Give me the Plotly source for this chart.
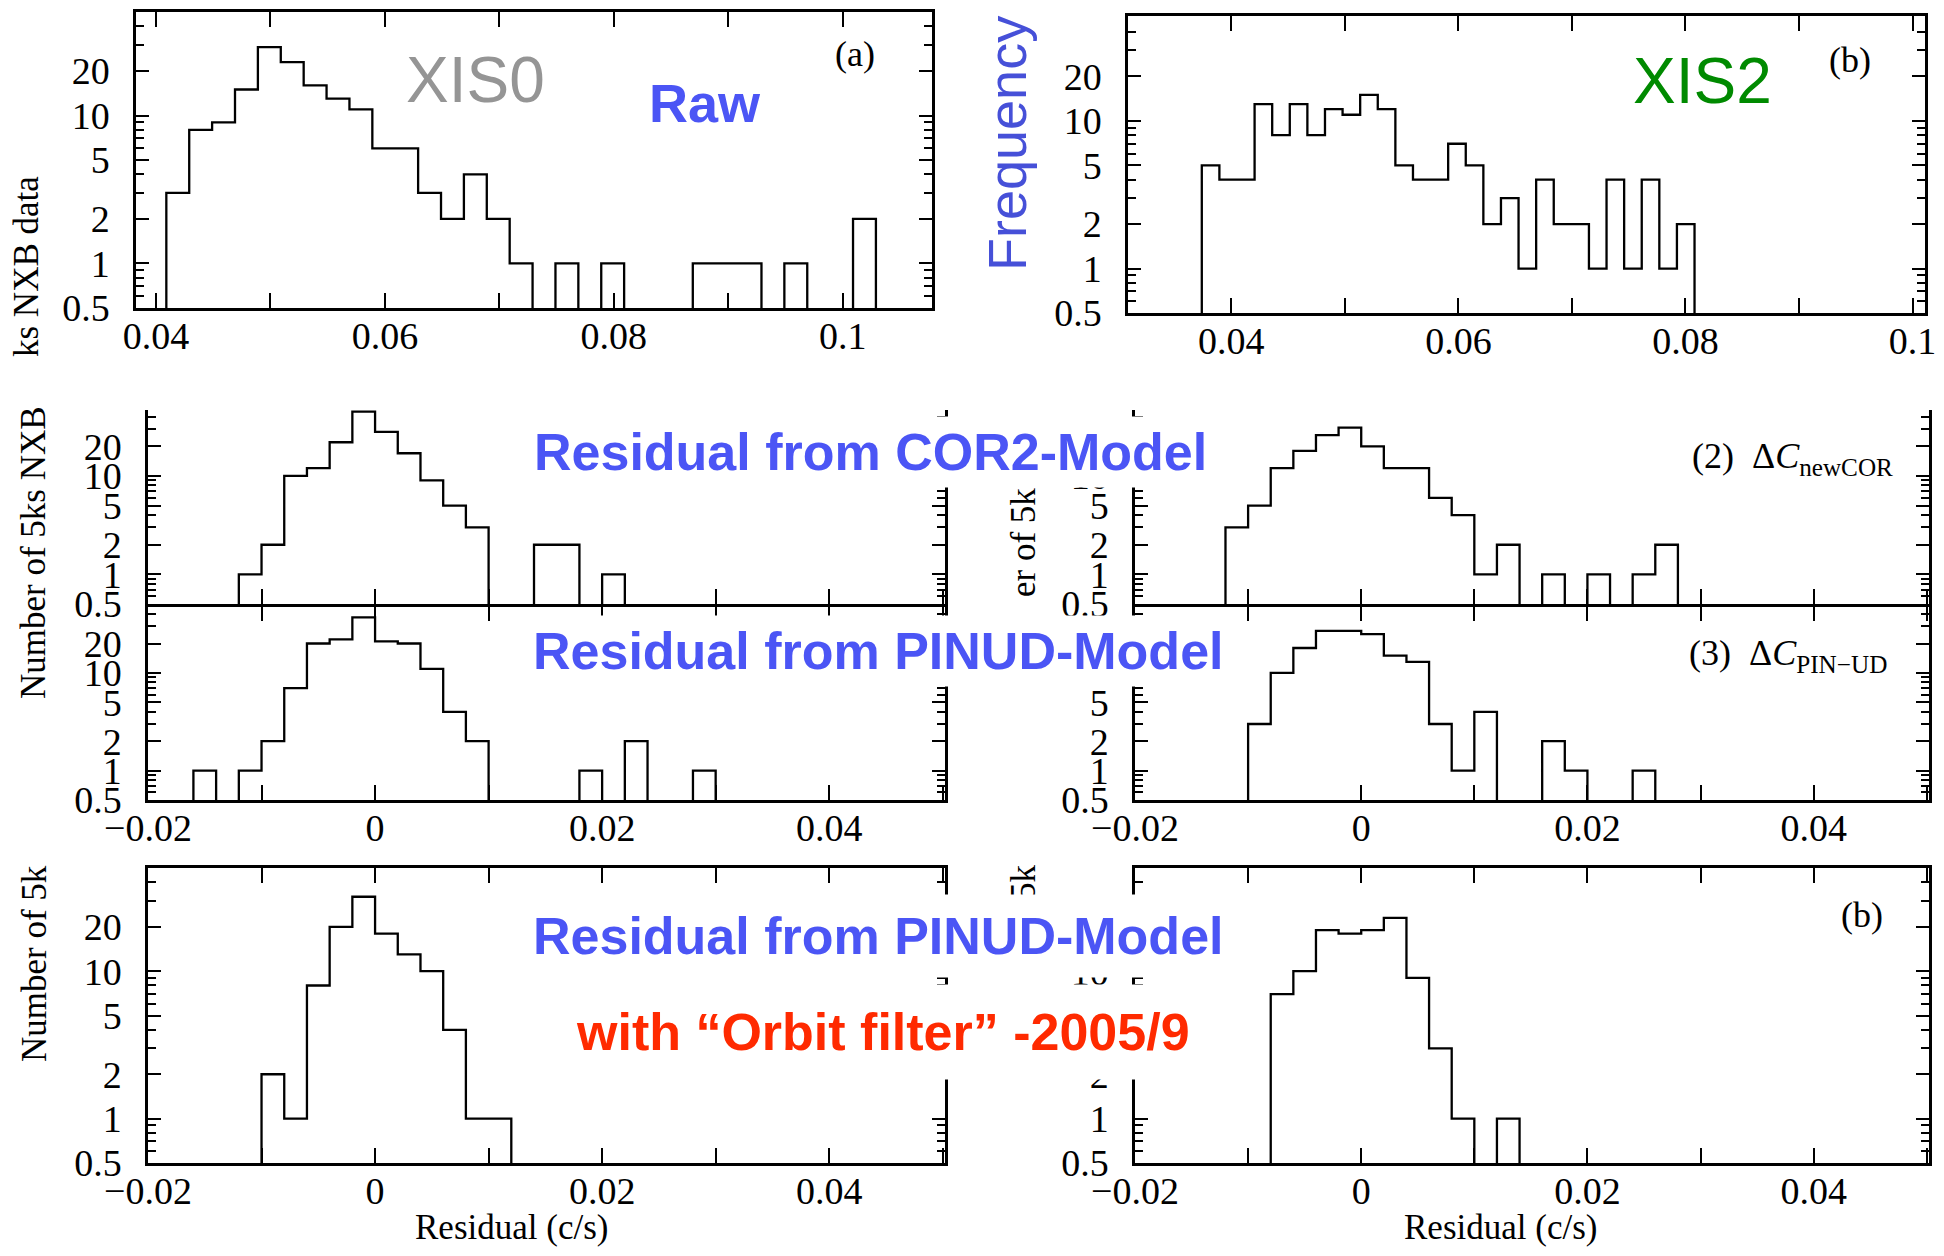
import numpy as np
import plotly.graph_objects as go

# ---- histogram data (bin start, bin width, counts per bin) ----
# (a) XIS0 raw rate
xis0_lo = 0.0409
xis0_w = 0.002
xis0_counts = [3, 8, 9, 15, 29, 23, 16, 13, 11, 6, 6, 3, 2, 4, 2, 1, 0, 1, 0, 1,
               0, 0, 0, 1, 1, 1, 0, 1, 0, 0, 2]

# (b) XIS2 raw rate
xis2_lo = 0.0374
xis2_w = 0.00155
xis2_counts = [5, 4, 4, 13, 8, 13, 8, 12, 11, 15, 12, 5, 4, 4, 7, 5, 2, 3, 1, 4,
               2, 2, 1, 4, 1, 4, 1, 2]

# residual from COR2 model
cor2_left_lo = -0.012
cor2_left_counts = [1, 2, 10, 12, 22, 45, 28, 17, 9, 5, 3, 0, 0, 2, 2, 0, 1]
cor2_right_lo = -0.012
cor2_right_counts = [3, 5, 12, 18, 26, 31, 20, 12, 12, 6, 4, 1, 2, 0, 1, 0, 1, 0, 1, 2]

# residual from PINUD model
pinud_left_lo = -0.016
pinud_left_counts = [1, 0, 1, 2, 7, 20, 22, 37, 21, 20, 11, 4, 2, 0, 0, 0, 0, 1,
                     0, 2, 0, 0, 1]
pinud_right_lo = -0.010
pinud_right_counts = [3, 10, 18, 27, 27, 25, 15, 13, 3, 1, 4, 0, 0, 2, 1, 0, 0, 1]

# residual from PINUD model with orbit filter
orbit_left_lo = -0.010
orbit_left_counts = [2, 1, 8, 20, 32, 18, 13, 10, 4, 1, 1]
orbit_right_lo = -0.008
orbit_right_counts = [7, 10, 19, 18, 19, 23, 9, 3, 1, 0, 1]
resid_w = 0.002

# ---- ticks ----
raw_xticks = [0.04, 0.06, 0.08, 0.1]
raw_xtext = ["0.04", "0.06", "0.08", "0.1"]
resid_xticks = [-0.02, 0, 0.02, 0.04]
resid_xtext = ["\u22120.02", "0", "0.02", "0.04"]
count_ticks = [0.5, 1, 2, 5, 10, 20]
count_text = ["0.5", "1", "2", "5", "10", "20"]
count_minor = [0.6, 0.7, 0.8, 0.9, 3, 4, 6, 7, 8, 9, 30, 40]

# the page body keeps an 8px margin, so the figure is a bit smaller than the window
OFF = 8
W, H = 1944 - 2 * OFF, 1256 - 2 * OFF
SERIF = "Liberation Serif, Times New Roman, serif"
SANS = "Liberation Sans, Arial, sans-serif"
FLOOR = 1e-3  # empty bins drop below the axis


def px_x(a, b):
    return [(a - OFF) / W, (b - OFF) / W]


def px_y(top, bottom):
    return [1 - (bottom - OFF) / H, 1 - (top - OFF) / H]


def step_xy(lo, w, counts):
    edges = lo + w * np.arange(len(counts) + 1)
    ys = [c if c > 0 else FLOOR for c in counts]
    return [edges[0]] + list(edges), [FLOOR] + ys + [FLOOR]


# panel boxes in window pixels: left, top, right, bottom
panels = [
    dict(lo=xis0_lo, w=xis0_w, counts=xis0_counts, box=(136, 12, 932, 308),
         xr=[0.03825, 0.1078], ytop=1.70, xt=raw_xticks, xl=raw_xtext, labels=True, top=True),
    dict(lo=xis2_lo, w=xis2_w, counts=xis2_counts, box=(1128, 16, 1925, 313),
         xr=[0.0309, 0.1011], ytop=1.71, xt=raw_xticks, xl=raw_xtext, labels=True, top=True),
    dict(lo=cor2_left_lo, w=resid_w, counts=cor2_left_counts, box=(148, 410, 945, 604),
         xr=[-0.02, 0.0502], ytop=1.67, xt=resid_xticks, xl=resid_xtext, labels=False, top=False),
    dict(lo=pinud_left_lo, w=resid_w, counts=pinud_left_counts, box=(148, 606.5, 945, 800),
         xr=[-0.02, 0.0502], ytop=1.68, xt=resid_xticks, xl=resid_xtext, labels=True, top=True),
    dict(lo=cor2_right_lo, w=resid_w, counts=cor2_right_counts, box=(1135, 410, 1929, 604),
         xr=[-0.02, 0.0502], ytop=1.67, xt=resid_xticks, xl=resid_xtext, labels=False, top=False),
    dict(lo=pinud_right_lo, w=resid_w, counts=pinud_right_counts, box=(1135, 606.5, 1929, 800),
         xr=[-0.02, 0.0502], ytop=1.68, xt=resid_xticks, xl=resid_xtext, labels=True, top=True),
    dict(lo=orbit_left_lo, w=resid_w, counts=orbit_left_counts, box=(148, 868, 945, 1163),
         xr=[-0.02, 0.0502], ytop=1.70, xt=resid_xticks, xl=resid_xtext, labels=True, top=True),
    dict(lo=orbit_right_lo, w=resid_w, counts=orbit_right_counts, box=(1135, 868, 1929, 1163),
         xr=[-0.02, 0.0502], ytop=1.70, xt=resid_xticks, xl=resid_xtext, labels=True, top=True),
]

fig = go.Figure()
layout = {}
for i, p in enumerate(panels, start=1):
    sx = "" if i == 1 else str(i)
    left, top, right, bottom = p["box"]
    xs, ys = step_xy(p["lo"], p["w"], p["counts"])
    fig.add_trace(go.Scatter(x=xs, y=ys, mode="lines", line=dict(color="black", width=2.3, shape="hv"),
                             xaxis="x" + sx, yaxis="y" + sx, showlegend=False, hoverinfo="skip"))
    layout["xaxis" + sx] = dict(
        domain=px_x(left, right), range=p["xr"], anchor="y" + sx,
        showline=True, linecolor="black", linewidth=2.5,
        mirror="allticks" if p["top"] else False,
        ticks="inside", ticklen=15, tickwidth=2, tickcolor="black",
        tickmode="array", tickvals=p["xt"], ticktext=p["xl"], showticklabels=p["labels"],
        tickfont=dict(family=SERIF, size=38, color="black"), ticklabelstandoff=-7,
        ticklabeloverflow="allow",
        minor=dict(dtick=0.01, tick0=0, ticks="inside", ticklen=15, tickwidth=2,
                   tickcolor="black", showgrid=False),
        showgrid=False, zeroline=False, automargin=False,
    )
    layout["yaxis" + sx] = dict(
        domain=px_y(top, bottom), type="log", range=[np.log10(0.5), p["ytop"]], anchor="x" + sx,
        showline=True, linecolor="black", linewidth=2.5, mirror="allticks",
        ticks="inside", ticklen=13, tickwidth=2, tickcolor="black",
        tickmode="array", tickvals=count_ticks, ticktext=count_text,
        tickfont=dict(family=SERIF, size=38, color="black"), ticklabelstandoff=16,
        minor=dict(tickvals=count_minor, ticks="inside", ticklen=8, tickwidth=1.5,
                   tickcolor="black", showgrid=False),
        showgrid=False, zeroline=False, automargin=False,
    )


def ann(text, x, y, size, color="black", family=SERIF, angle=0, xanchor="center",
        bg=None, pad=1, weight="normal"):
    d = dict(text=text, x=(x - OFF) / W, y=1 - (y - OFF) / H, xref="paper", yref="paper",
             showarrow=False, xanchor=xanchor, yanchor="middle", textangle=angle,
             font=dict(family=family, size=size, color=color, weight=weight))
    if bg:
        d.update(bgcolor=bg, borderpad=pad)
    return d


BLUE = "#4b55f5"
annotations = [
    # cropped axis-title fragments
    ann("ks NXB data", 26, 267, 35, angle=-90),
    ann("Number of 5ks NXB", 34, 553, 35, angle=-90),
    ann("er of 5ks", 1023, 536, 35, angle=-90),
    ann("Number of 5k", 34, 964, 35, angle=-90),
    ann("5k", 1023, 882, 35, angle=-90),
    # panel tags
    ann("(a)", 855, 54, 36),
    ann("(b)", 1850, 60, 36),
    ann("(b)", 1862, 915, 36),
    ann("(2)\u00a0\u00a0\u0394<i>C</i><sub>newCOR</sub>", 1895, 458, 36, xanchor="right"),
    ann("(3)\u00a0\u00a0\u0394<i>C</i><sub>PIN\u2212UD</sub>", 1889, 655, 36, xanchor="right"),
    # x titles
    ann("Residual (c/s)", 511, 1227, 35),
    ann("Residual (c/s)", 1500, 1227, 35),
    # overlaid slide labels
    ann("XIS0", 475, 80, 64, color="#959595", family=SANS),
    ann("XIS2", 1702, 81, 64, color="#008a00", family=SANS),
    ann("Raw", 705, 103, 54, color=BLUE, family=SANS, weight="bold"),
    ann("Frequency", 1007, 144, 54, color="#4650d8", family=SANS, angle=-90),
    ann("Residual from COR2-Model", 870, 452, 52, color=BLUE, family=SANS,
        weight="bold", bg="white", pad=6),
    ann("Residual from PINUD-Model", 878, 651, 52, color=BLUE, family=SANS,
        weight="bold", bg="white", pad=6),
    ann("Residual from PINUD-Model", 878, 936, 52, color=BLUE, family=SANS,
        weight="bold", bg="white", pad=12),
    ann("with \u201cOrbit filter\u201d -2005/9", 883, 1032, 52, color="#ff2a00", family=SANS,
        weight="bold", bg="white", pad=18),
]

fig.update_layout(
    width=W, height=H, margin=dict(l=0, r=0, t=0, b=0),
    paper_bgcolor="white", plot_bgcolor="white",
    annotations=annotations, showlegend=False,
    **layout,
)

fig.write_html("out.html")
